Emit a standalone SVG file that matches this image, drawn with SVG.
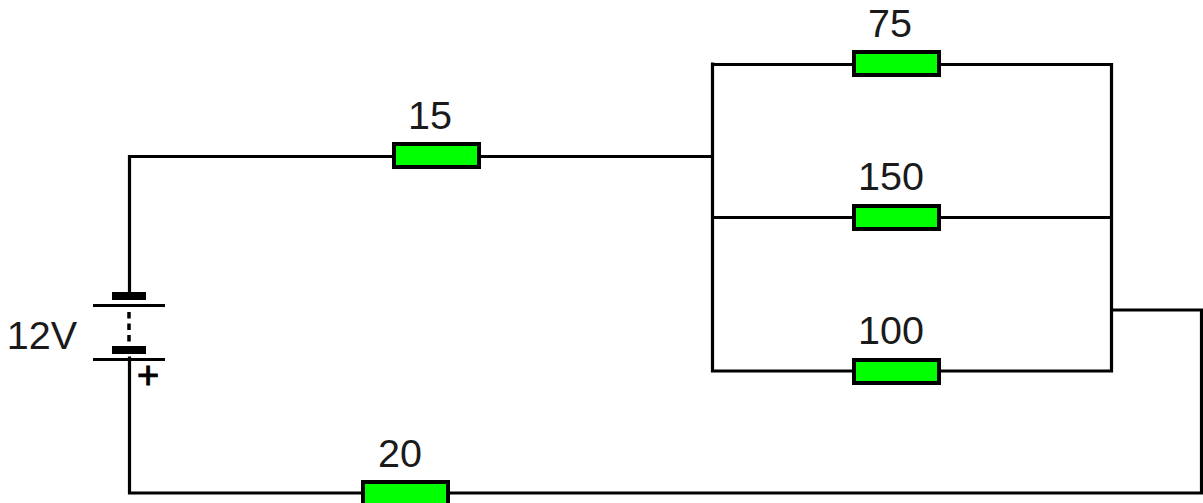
<svg xmlns="http://www.w3.org/2000/svg" width="1203" height="503" viewBox="0 0 1203 503">
<style>
.w{fill:none;stroke:#000;stroke-width:3.200;stroke-linecap:square}
.r{fill:#00ff00;stroke:#000;stroke-width:4}
.t{font-family:"Liberation Sans",Arial,sans-serif;font-size:39.500px;fill:#1a1a1a;text-anchor:middle}
.b{fill:#000}
</style>
<rect width="1203" height="503" fill="#fff"/>
<g id="connectors">
<path class="w" d="M129.500 296V156.500H712M712.500 64V371M712.500 64.500H1111.500V371H712.500M712.500 217.500H1111.500M1111.500 310H1201.500V493H129.500V358"/>
<path d="M129 312V342" fill="none" stroke="#000" stroke-width="3.500" stroke-dasharray="6.500 5"/>
</g>
<g id="battery">
<rect class="b" x="112" y="292" width="34" height="8"/>
<rect class="b" x="93" y="304" width="72" height="3"/>
<rect class="b" x="112" y="346" width="34" height="8"/>
<rect class="b" x="93" y="358" width="72" height="3"/>
<text x="148" y="388" font-family="Liberation Sans, Arial, sans-serif" font-size="38" text-anchor="middle" fill="#000" stroke="#000" stroke-width="1">+</text>
<text class="t" x="42" y="349">12V</text>
</g>
<g id="r15"><rect class="r" x="394" y="144" width="85" height="23"/><text class="t" x="430" y="129">15</text></g>
<g id="r75"><rect class="r" x="854" y="52" width="85" height="23"/><text class="t" x="890" y="37">75</text></g>
<g id="r150"><rect class="r" x="854" y="206" width="85" height="23"/><text class="t" x="891" y="190">150</text></g>
<g id="r100"><rect class="r" x="854" y="360" width="85" height="23"/><text class="t" x="891" y="344">100</text></g>
<g id="r20"><rect class="r" x="363" y="482" width="85" height="23"/><text class="t" x="400" y="467">20</text></g>
</svg>
